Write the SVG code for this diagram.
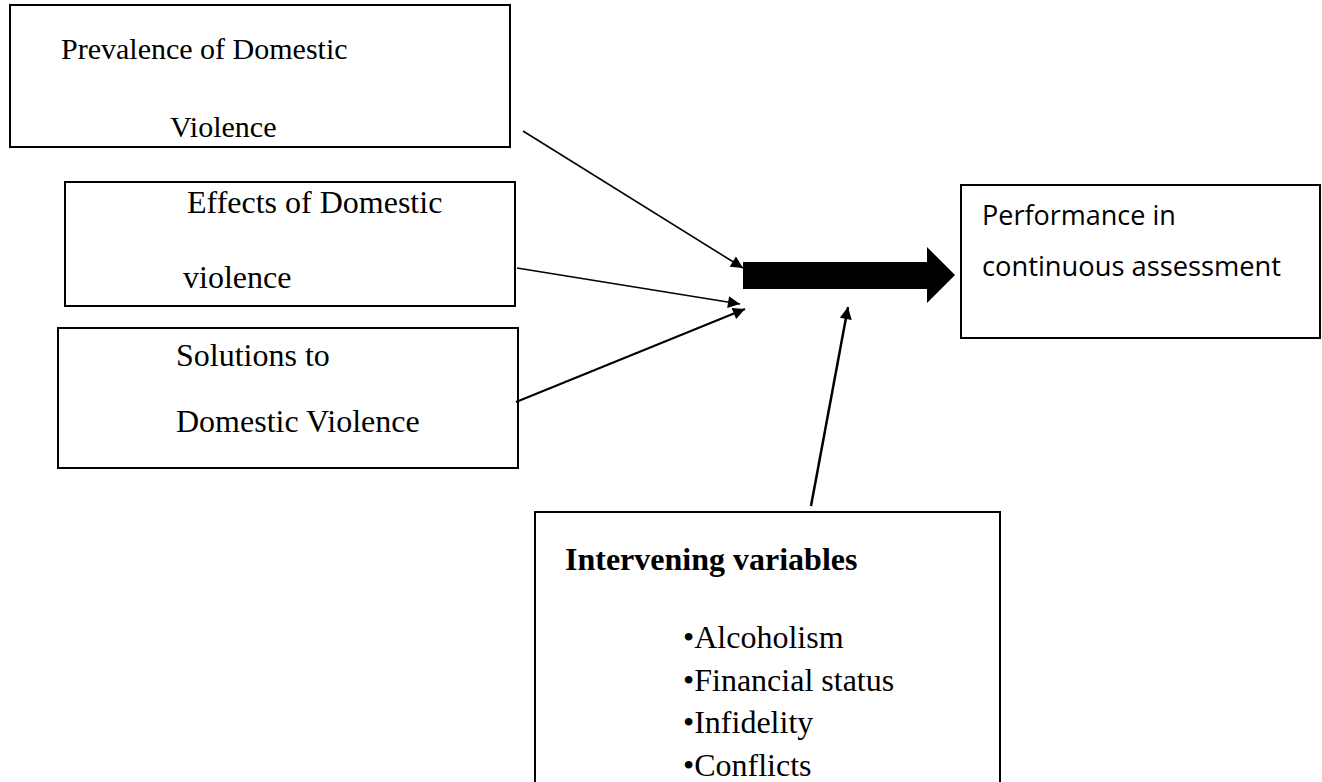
<svg xmlns="http://www.w3.org/2000/svg" width="1322" height="782" viewBox="0 0 1322 782">
<style>
.box{fill:#fff;stroke:#000;stroke-width:2}
.serif{font-family:"Liberation Serif","Times New Roman",serif;fill:#000}
.sans{font-family:"Open Sans","Noto Sans","Liberation Sans",sans-serif;fill:#000}
.conn{stroke:#000;fill:none}
</style>
<defs>
<marker id="ah" viewBox="0 0 10 10" refX="10" refY="5" markerWidth="14" markerHeight="12" markerUnits="userSpaceOnUse" orient="auto">
<path d="M0,0 L10,5 L0,10 z" fill="#000"/>
</marker>
</defs>
<rect width="1322" height="782" fill="#fff"/>
<g id="prevalence">
<rect class="box" x="10" y="5" width="500" height="142"/>
<text class="serif" x="61" y="59" font-size="30">Prevalence of Domestic</text>
<text class="serif" x="170" y="137" font-size="30">Violence</text>
</g>
<g id="effects">
<rect class="box" x="65" y="182" width="450" height="124"/>
<text class="serif" x="187" y="213" font-size="32">Effects of Domestic</text>
<text class="serif" x="183" y="288" font-size="32">violence</text>
</g>
<g id="solutions">
<rect class="box" x="58" y="328" width="460" height="140"/>
<text class="serif" x="176" y="366" font-size="32">Solutions to</text>
<text class="serif" x="176" y="432" font-size="32">Domestic Violence</text>
</g>
<g id="performance">
<rect class="box" x="961" y="185" width="359" height="153"/>
<text class="sans" x="982" y="225" font-size="27">Performance in</text>
<text class="sans" x="982" y="276" font-size="27" textLength="299" lengthAdjust="spacingAndGlyphs">continuous assessment</text>
</g>
<g id="intervening">
<rect class="box" x="535" y="512" width="465" height="300"/>
<text class="serif" x="565" y="570" font-size="32" font-weight="bold">Intervening variables</text>
<text class="serif" x="683" y="648" font-size="32">•Alcoholism</text>
<text class="serif" x="683" y="691" font-size="32">•Financial status</text>
<text class="serif" x="683" y="733" font-size="32">•Infidelity</text>
<text class="serif" x="683" y="776" font-size="32">•Conflicts</text>
</g>
<g id="connectors">
<line class="conn" x1="523" y1="131" x2="743" y2="268" stroke-width="1.6" marker-end="url(#ah)"/>
<line class="conn" x1="517" y1="268" x2="740" y2="304" stroke-width="1.6" marker-end="url(#ah)"/>
<line class="conn" x1="516" y1="402" x2="745" y2="309" stroke-width="2" marker-end="url(#ah)"/>
<line class="conn" x1="811" y1="506" x2="848" y2="307" stroke-width="2.5" marker-end="url(#ah)"/>
<path id="main-arrow" d="M743,262 L927,262 L927,247 L955,275 L927,303 L927,289 L743,289 z" fill="#000"/>
</g>
</svg>
